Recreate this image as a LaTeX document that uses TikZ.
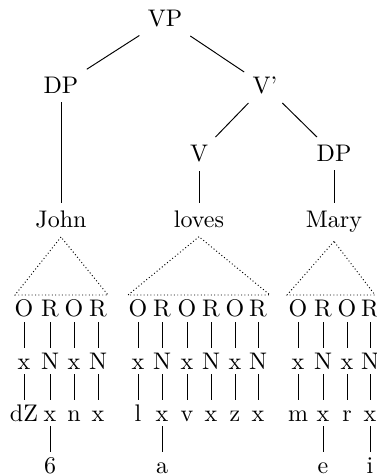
\documentclass[tikz,border=0pt]{standalone}
\begin{document}
\begin{tikzpicture}[x=0.41667pt,y=-0.41667pt,
  cat/.style={anchor=base},
  seg/.style={anchor=base,inner sep=0pt,text height=8.75pt,text depth=1.9pt},
  roof/.style={densely dotted}]
\useasboundingbox (0,0) rectangle (376,476);
% syntactic tree
\node[cat] (vp) at (165,27) {VP};
\node[cat] (dpa) at (61,94) {DP};
\node[cat] (vbar) at (265,94) {V'};
\node[cat] (v) at (199,162) {V};
\node[cat] (dpb) at (334,162) {DP};
\node[cat] (john) at (61,228) {John};
\node[cat] (loves) at (199,228) {loves};
\node[cat] (mary) at (334,228) {Mary};
\draw (vp) -- (dpa);
\draw (vp) -- (vbar);
\draw (vbar) -- (v);
\draw (vbar) -- (dpb);
\draw (dpa) -- (john);
\draw (v) -- (loves);
\draw (dpb) -- (mary);
% roofs
\coordinate (jl) at (15,295); \coordinate (jr) at (108,295);
\coordinate (ll) at (128,295); \coordinate (lr) at (270,295);
\coordinate (ml) at (287,295); \coordinate (mr) at (375,295);
\draw[roof] (john.south) -- (jl) -- (jr) -- cycle;
\draw[roof] (loves.south) -- (ll) -- (lr) -- cycle;
\draw[roof] (mary.south) -- (ml) -- (mr) -- cycle;
% onset columns
\foreach \n/\c/\s in {j1/24/dZ, j3/74/n, l1/138/l, l3/187/v, l5/235/z, m1/298/m, m3/347/r} {
  \node[seg] (\n-o) at (\c,317) {O};
  \node[seg] (\n-x) at (\c,369) {x};
  \node[seg] (\n-s) at (\c,421) {\s};
  \draw (\n-o) -- (\n-x);
  \draw (\n-x) -- (\n-s);
}
% rhyme columns with vowel
\foreach \n/\c/\s in {j2/50/6, l2/162/a, m2/323/e, m4/370/i} {
  \node[seg] (\n-r) at (\c,317) {R};
  \node[seg] (\n-n) at (\c,369) {N};
  \node[seg] (\n-x) at (\c,421) {x};
  \node[seg] (\n-s) at (\c,473) {\s};
  \draw (\n-r) -- (\n-n);
  \draw (\n-n) -- (\n-x);
  \draw (\n-x) -- (\n-s);
}
% rhyme columns without vowel
\foreach \n/\c in {j4/98, l4/211, l6/258} {
  \node[seg] (\n-r) at (\c,317) {R};
  \node[seg] (\n-n) at (\c,369) {N};
  \node[seg] (\n-x) at (\c,421) {x};
  \draw (\n-r) -- (\n-n);
  \draw (\n-n) -- (\n-x);
}
\end{tikzpicture}
\end{document}
